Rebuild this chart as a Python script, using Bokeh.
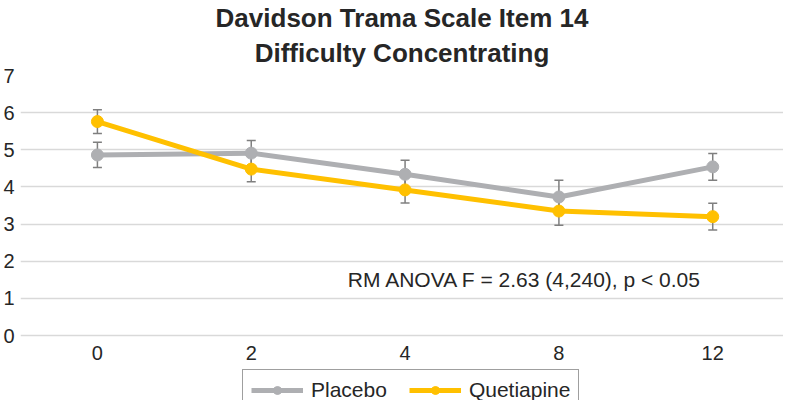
from bokeh.plotting import figure
from bokeh.models import (ColumnDataSource, Range1d, FixedTicker, Whisker, TeeHead,
                          Legend, LegendItem, Label, Title)
from bokeh.core.properties import value
from bokeh.embed import file_html
from bokeh.resources import INLINE

# ---- data ----
weeks = ["0", "2", "4", "8", "12"]
placebo = [4.86, 4.91, 4.34, 3.73, 4.54]
placebo_err = [0.34, 0.34, 0.38, 0.45, 0.36]
quetiapine = [5.76, 4.48, 3.92, 3.35, 3.20]
quetiapine_err = [0.32, 0.34, 0.35, 0.38, 0.36]
y_ticks = [0, 1, 2, 3, 4, 5, 6, 7]
annotation = "RM ANOVA F = 2.63 (4,240), p < 0.05"
title_lines = ["Davidson Trama Scale Item 14", "Difficulty Concentrating"]

GREY = "#AEAFB2"
GOLD = "#FFC000"
ERR = "#7F7F7F"
TXT = "#262626"
FONT = "Liberation Sans"

idx = list(range(len(weeks)))

def src(vals, errs):
    return ColumnDataSource(dict(
        x=idx, y=vals,
        lower=[v - e for v, e in zip(vals, errs)],
        upper=[v + e for v, e in zip(vals, errs)],
    ))

s_p = src(placebo, placebo_err)
s_q = src(quetiapine, quetiapine_err)

# y range extends below 0 so the legend area lies inside the frame
p = figure(width=783, height=400, output_backend="svg", toolbar_location=None,
           title=None, x_axis_location=None,
           x_range=Range1d(-0.5, 4.46), y_range=Range1d(-1.75, 7),
           min_border_left=0, min_border_right=0, min_border_top=0, min_border_bottom=0)
p.outline_line_color = None
p.background_fill_color = "white"
p.border_fill_color = "white"

# two centered title lines (first added sits closest to the plot)
for i, line in enumerate(reversed(title_lines)):
    t = Title(text=line, align="center", text_font=FONT, text_font_style="bold",
              text_font_size="26px", text_color=TXT, text_line_height=1.0,
              vertical_align="top" if i == 0 else "bottom",
              standoff=11 if i == 0 else 0, offset=4)
    p.add_layout(t, "above")

# y axis
p.yaxis.ticker = FixedTicker(ticks=y_ticks)
p.yaxis.axis_line_color = None
p.yaxis.major_tick_line_color = None
p.yaxis.minor_tick_line_color = None
p.yaxis.major_tick_out = 0
p.yaxis.major_tick_in = 0
p.yaxis.major_label_text_font = FONT
p.yaxis.major_label_text_font_size = "20px"
p.yaxis.major_label_text_color = TXT
p.yaxis.major_label_standoff = 6

for g in p.grid:
    if g.dimension == 0:
        g.grid_line_color = None
    else:
        g.grid_line_color = "#D9D9D9"
        g.grid_line_width = 1.5

# category labels along y = 0
p.text(x=idx, y=[0] * len(idx), text=weeks, y_offset=17,
       text_align="center", text_baseline="middle",
       text_font=value(FONT), text_font_size="20px", text_color=TXT)

# error bars
for s in (s_p, s_q):
    w = Whisker(base="x", lower="lower", upper="upper", source=s,
                line_color=ERR, line_width=1.5,
                upper_head=TeeHead(size=9, line_color=ERR, line_width=1.5),
                lower_head=TeeHead(size=9, line_color=ERR, line_width=1.5))
    p.add_layout(w)

lp = p.line("x", "y", source=s_p, line_color=GREY, line_width=5)
cp = p.scatter("x", "y", source=s_p, size=12, fill_color=GREY, line_color=GREY)
lq = p.line("x", "y", source=s_q, line_color=GOLD, line_width=5)
cq = p.scatter("x", "y", source=s_q, size=12, fill_color=GOLD, line_color=GOLD)

lab = Label(x=2.78, y=1.51, text=annotation, text_align="center", text_baseline="middle",
            text_font=FONT, text_font_size="21px", text_color=TXT)
p.add_layout(lab)

legend = Legend(items=[LegendItem(label="Placebo", renderers=[lp, cp]),
                       LegendItem(label="Quetiapine", renderers=[lq, cq])],
                orientation="horizontal", location=(222, -11),
                glyph_width=52, glyph_height=20, label_text_font=FONT,
                label_text_font_size="21px", label_text_color=TXT,
                border_line_color="#404040", border_line_width=1,
                padding=8, spacing=22, margin=0, label_standoff=8,
                background_fill_alpha=1)
p.add_layout(legend, "center")

open("out.html", "w").write(file_html(p, INLINE))
